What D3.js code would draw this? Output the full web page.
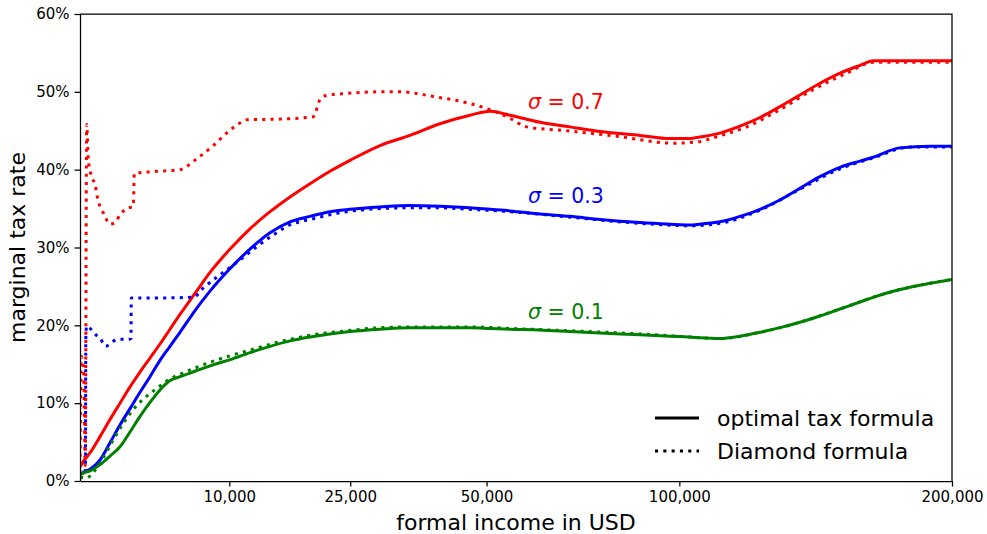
<!DOCTYPE html>
<meta charset="utf-8">
<style>
    body { margin: 0; background: #fff; }
    text { font-family: "DejaVu Sans", sans-serif; fill: #000; }
    .axis path, .axis line { stroke: #000; stroke-width: 1.25; }
    .axis text { font-size: 15px; }
</style>
<body>
<script src="https://cdn.jsdelivr.net/npm/d3@7"></script>
<script>
    // income grid (USD) shared by the three optimal-formula curves
    const incomeGrid = [800, 941, 1094, 1436, 1823, 2256, 2736, 3261, 3833, 4451, 5115, 5825, 6977, 8233,
        10080, 12089, 14295, 16685, 19259, 22019, 24964, 29725, 34903, 40494, 46505, 50742, 55165, 62140,
        69532, 77340, 88400, 97176, 103259, 106352, 112710, 119270, 125980, 132870, 140000, 147300, 154760,
        162400, 167527, 178250, 190663, 200000];

    // marginal tax rate in %, optimal tax formula
    const optimal07 = [1.8, 2.8, 3.6, 5.7, 7.9, 10.0, 12.1, 14.0, 15.8, 17.6, 19.5, 21.4, 24.1, 26.8,
        29.8, 32.4, 34.6, 36.5, 38.2, 39.8, 41.2, 43.1, 44.4, 45.9, 47.0, 47.5, 47.0, 46.1,
        45.5, 44.9, 44.4, 44.0, 44.0, 44.2, 44.7, 45.6, 46.7, 48.1, 49.6, 51.1, 52.4,
        53.4, 54.0, 54.0, 54.0, 54.0];
    const optimal03 = [0.8, 1.2, 1.5, 2.7, 4.9, 7.2, 9.3, 11.4, 13.4, 15.5, 17.3, 19.1, 21.9, 24.4,
        27.3, 29.8, 31.9, 33.3, 34.0, 34.6, 34.9, 35.2, 35.4, 35.3, 35.1, 34.9, 34.7, 34.3,
        34.0, 33.6, 33.2, 33.0, 32.9, 33.0, 33.3, 34.0, 34.9, 36.1, 37.6, 39.1, 40.3,
        41.1, 41.6, 42.8, 43.0, 43.0];
    const optimal01 = [0.8, 1.1, 1.3, 2.1, 3.2, 4.4, 6.3, 8.3, 10.1, 11.7, 12.9, 13.4, 14.1, 14.8,
        15.6, 16.5, 17.3, 18.0, 18.5, 18.9, 19.2, 19.5, 19.7, 19.7, 19.7, 19.6, 19.5, 19.4,
        19.2, 19.0, 18.8, 18.6, 18.5, 18.4, 18.3, 18.6, 19.1, 19.7, 20.4, 21.2, 22.1,
        23.0, 23.6, 24.6, 25.4, 25.9];

    // Diamond formula, sigma = 0.7
    const diamond07Income = [800, 835, 900, 950, 992, 1041, 1149, 1259, 1374, 1498, 1623, 1823, 2034, 2256,
        2572, 2904, 2956, 3639, 5825, 7115, 8523, 9753, 11056, 11743, 15500, 19701, 20615, 21310, 24463,
        29725, 33131, 39212, 45822, 50742, 55165, 58991, 68696, 81865, 98170, 106352, 110576, 121508,
        132870, 144841, 157315, 167730, 200000];
    const diamond07Rate = [1.0, 16.0, 14.0, 2.0, 45.8, 41.3, 39.1, 38.1, 35.9, 34.9, 34.0, 33.0, 33.2, 34.2,
        35.0, 35.3, 39.5, 39.7, 40.0, 41.4, 43.1, 44.7, 46.0, 46.4, 46.5, 46.8, 49.0, 49.5, 49.8,
        50.0, 50.0, 49.4, 48.6, 47.7, 46.6, 45.5, 45.0, 44.3, 43.4, 43.6, 44.1, 45.5,
        47.7, 50.3, 52.4, 53.8, 53.8];

    // Diamond formula, sigma = 0.3
    const diamond03Income = [800, 955, 965, 990, 1073, 1283, 1461, 1651, 1918, 2256, 2650, 2786, 2800,
        3083, 6841, 7660, 9128, 11056, 12807, 14677, 16277, 19701, 24463, 29725, 34903, 40494, 46505,
        55165, 69532, 88400, 103259, 112710, 125980, 140000, 154760, 167527, 182363, 200000];
    const diamond03Rate = [0.3, 1.5, 18.2, 19.9, 19.7, 18.8, 18.2, 17.3, 17.9, 18.2, 18.2, 18.3, 23.5,
        23.5, 23.6, 24.8, 26.5, 28.4, 30.1, 31.6, 32.7, 33.7, 34.6, 35.0, 35.1, 35.1, 34.9,
        34.6, 33.9, 33.1, 32.8, 33.1, 34.8, 37.5, 40.1, 41.5, 42.9, 42.9];

    // Diamond formula, sigma = 0.1
    const diamond01Income = [800, 992, 1202, 1558, 1961, 2409, 2904, 3639, 4451, 4999, 5825, 8523, 11743,
        15500, 19701, 24463, 29725, 34903, 46505, 55165, 69532, 88400, 103259, 112710, 125980, 140000,
        154760, 167527, 178250, 190663, 200000];
    const diamond01Rate = [0.5, 0.4, 1.1, 3.0, 5.3, 7.4, 9.2, 10.9, 12.2, 13.0, 13.7, 15.4, 16.7,
        17.9, 18.8, 19.3, 19.7, 19.8, 19.8, 19.6, 19.3, 18.9, 18.5, 18.3, 19.1, 20.4,
        22.1, 23.6, 24.6, 25.4, 25.9];

    const sigmaLabels = ["0.7", "0.3", "0.1"];
    const sigmaColors = ["#ff0000", "#0000ff", "#008000"];
    const labelIncome = [59300, 59300, 59300];
    const labelRate = [47.8, 35.7, 20.8];

    const xTicks = [10000, 25000, 50000, 100000, 200000];
    const yTicks = [0, 10, 20, 30, 40, 50, 60];
    const legendLabels = ["optimal tax formula", "Diamond formula"];

    const width = 987, height = 534;
    const margin = {top: 14, right: 35, bottom: 53, left: 80};

    const svg = d3.select("body").append("svg")
        .attr("width", width)
        .attr("height", height);

    const x = d3.scaleSqrt()
        .domain([800, 200000])
        .range([margin.left, width - margin.right]);

    const y = d3.scaleLinear()
        .domain([0, 60])
        .range([height - margin.bottom, margin.top]);

    const line = d3.line()
        .x(d => x(d[0]))
        .y(d => y(d[1]))
        .curve(d3.curveMonotoneX);

    const optimal = [optimal07, optimal03, optimal01].map(r => incomeGrid.map((v, i) => [v, r[i]]));
    const diamond = [
        diamond07Income.map((v, i) => [v, diamond07Rate[i]]),
        diamond03Income.map((v, i) => [v, diamond03Rate[i]]),
        diamond01Income.map((v, i) => [v, diamond01Rate[i]])
    ];

    svg.append("clipPath").attr("id", "plotclip")
        .append("rect")
        .attr("x", margin.left).attr("y", margin.top)
        .attr("width", x.range()[1] - margin.left)
        .attr("height", y.range()[0] - margin.top);

    const lines = svg.append("g").attr("clip-path", "url(#plotclip)");

    for (let k = 0; k < 3; k++) {
        lines.append("path")
            .datum(optimal[k])
            .attr("d", line)
            .attr("fill", "none")
            .attr("stroke", sigmaColors[k])
            .attr("stroke-width", 3);
        lines.append("path")
            .datum(diamond[k])
            .attr("d", line)
            .attr("fill", "none")
            .attr("stroke", sigmaColors[k])
            .attr("stroke-width", 3)
            .attr("stroke-dasharray", "3.1,5.2");
    }

    // axes
    svg.append("g")
        .attr("class", "axis")
        .attr("transform", "translate(0," + y.range()[0] + ")")
        .call(d3.axisBottom(x).tickValues(xTicks).tickFormat(d3.format(",")).tickSize(5.5).tickPadding(5).tickSizeOuter(0));

    svg.append("g")
        .attr("class", "axis")
        .attr("transform", "translate(" + margin.left + ",0)")
        .call(d3.axisLeft(y).tickValues(yTicks).tickFormat(d => d + "%").tickSize(5.5).tickPadding(5).tickSizeOuter(0));

    // top and right spines
    svg.append("path")
        .attr("d", "M" + margin.left + "," + margin.top + "H" + x.range()[1] + "V" + y.range()[0])
        .attr("fill", "none")
        .attr("stroke", "#000")
        .attr("stroke-width", 1.25);

    // axis labels
    svg.append("text")
        .attr("x", (margin.left + x.range()[1]) / 2)
        .attr("y", 530)
        .attr("text-anchor", "middle")
        .style("font-size", "22px")
        .text("formal income in USD");

    svg.append("text")
        .attr("transform", "translate(25," + (margin.top + y.range()[0]) / 2 + ") rotate(-90)")
        .attr("text-anchor", "middle")
        .style("font-size", "22px")
        .text("marginal tax rate");

    // sigma annotations
    sigmaLabels.forEach(function (s, k) {
        const t = svg.append("text")
            .attr("x", x(labelIncome[k]))
            .attr("y", y(labelRate[k]))
            .style("font-size", "20.5px")
            .style("fill", sigmaColors[k]);
        t.append("tspan").style("font-style", "italic").style("fill", sigmaColors[k]).text("σ");
        t.append("tspan").style("fill", sigmaColors[k]).text(" = " + s);
    });

    // legend
    const legend = svg.append("g").attr("transform", "translate(655,418)");
    legendLabels.forEach(function (lab, i) {
        legend.append("line")
            .attr("x1", 0).attr("x2", 44)
            .attr("y1", i * 33).attr("y2", i * 33)
            .attr("stroke", "#000")
            .attr("stroke-width", 3)
            .attr("stroke-dasharray", i === 0 ? null : "3.1,5.2");
        legend.append("text")
            .attr("x", 62)
            .attr("y", i * 33)
            .attr("dy", "0.35em")
            .style("font-size", "22px")
            .text(lab);
    });
</script>
</body>
